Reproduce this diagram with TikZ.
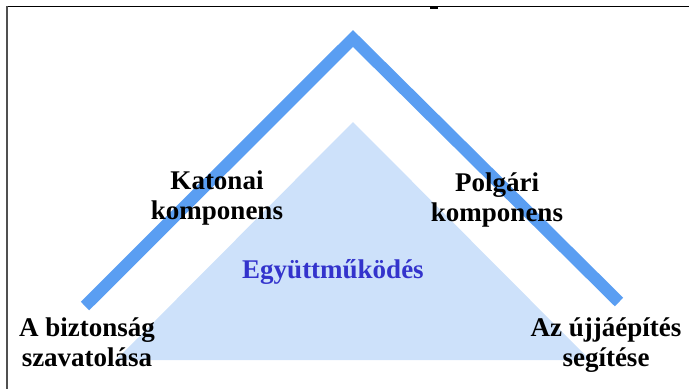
\documentclass[tikz,border=0pt]{standalone}
\usepackage{fontspec}
\setmainfont{Liberation Serif}
\definecolor{bandblue}{RGB}{90,158,242}
\definecolor{dotblue}{RGB}{205,225,250}
\definecolor{coopblue}{RGB}{51,51,204}
\definecolor{framegray}{RGB}{80,80,80}
\begin{document}
\begin{tikzpicture}[x=1pt,y=-1pt,
  lbl/.style={font=\bfseries\fontsize{27}{30}\selectfont,align=center,text=black,inner sep=0pt},
  band/.style={draw=bandblue,line width=12pt,line cap=butt,line join=miter}]
\useasboundingbox (0,0) rectangle (689,389);
% frame
\draw[black,line width=1.6pt] (6,6.5) -- (689,6.5);
\draw[framegray,line width=2pt] (7,6) -- (7,389);
\draw[black,line width=3pt] (430,7) -- (438,7);
% dotted triangle
\coordinate (tA) at (353,122);
\coordinate (tL) at (116,360);
\coordinate (tR) at (590,360);
\fill[dotblue] (tA) -- (tL) -- (tR) -- cycle;
% chevron
\coordinate (cL) at (85,306);
\coordinate (cA) at (353,38.5);
\coordinate (cR) at (619,302);
\draw[band] (cL) -- (cA) -- (cR);
% labels
\node[lbl] (kat) at (217,198) {Katonai\\komponens};
\node[lbl] (pol) at (497,200) {Polgári\\komponens};
\node[lbl] (biz) at (87,342) {A biztonság\\szavatolása};
\node[lbl] (ujj) at (606,345) {Az újjáépítés\\segítése};
\node[lbl,text=coopblue] (egy) at (333,272) {Együttműködés};
\end{tikzpicture}
\end{document}
